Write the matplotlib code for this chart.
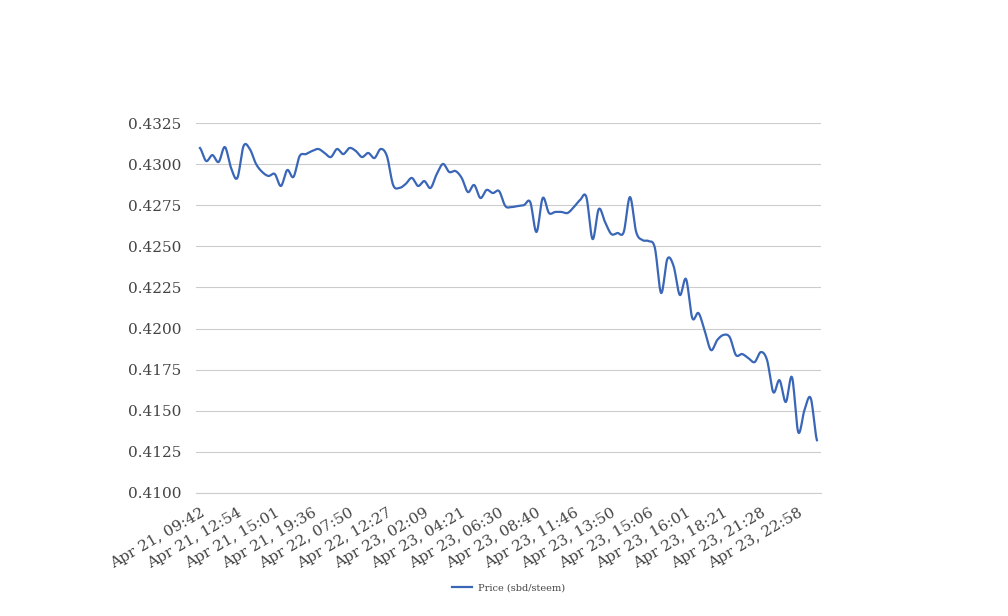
import numpy as np
import matplotlib
matplotlib.use("Agg")
import matplotlib.pyplot as plt

# precio sbd/steem, un valor por muestra
precios = [
    0.43098, 0.43019, 0.43055, 0.43013, 0.43104, 0.42976, 0.42916, 0.43110, 0.43092, 0.43001,
    0.42952, 0.42928, 0.42940, 0.42867, 0.42964, 0.42922, 0.43049, 0.43061, 0.43080, 0.43092,
    0.43068, 0.43043, 0.43092, 0.43061, 0.43098, 0.43080, 0.43043, 0.43068, 0.43037, 0.43092,
    0.43049, 0.42873, 0.42855, 0.42879, 0.42916, 0.42867, 0.42897, 0.42855, 0.42940, 0.43001,
    0.42952, 0.42958, 0.42916, 0.42830, 0.42873, 0.42794, 0.42843, 0.42824, 0.42836, 0.42745,
    0.42739, 0.42745, 0.42751, 0.42769, 0.42587, 0.42794, 0.42703, 0.42709, 0.42709, 0.42703,
    0.42739, 0.42782, 0.42800, 0.42544, 0.42727, 0.42648, 0.42575, 0.42581, 0.42587, 0.42800,
    0.42587, 0.42538, 0.42532, 0.42490, 0.42216, 0.42423, 0.42380, 0.42204, 0.42301, 0.42064,
    0.42094, 0.41985, 0.41869, 0.41930, 0.41961, 0.41948, 0.41839, 0.41845, 0.41820, 0.41796,
    0.41857, 0.41808, 0.41613, 0.41686, 0.41553, 0.41704, 0.41370, 0.41504, 0.41577, 0.41321,
]

# etiquetas del eje x (una cada 6 muestras)
etiquetas = [
    "Apr 21, 09:42", "Apr 21, 12:54", "Apr 21, 15:01", "Apr 21, 19:36",
    "Apr 22, 07:50", "Apr 22, 12:27", "Apr 23, 02:09", "Apr 23, 04:21",
    "Apr 23, 06:30", "Apr 23, 08:40", "Apr 23, 11:46", "Apr 23, 13:50",
    "Apr 23, 15:06", "Apr 23, 16:01", "Apr 23, 18:21", "Apr 23, 21:28",
    "Apr 23, 22:58",
]
paso_etiquetas = 6

y_ticks = [0.4100, 0.4125, 0.4150, 0.4175, 0.4200, 0.4225, 0.4250, 0.4275, 0.4300, 0.4325]


# curva suavizada (Catmull-Rom) solo para dibujar
def suavizar(y, n=12):
    y = np.asarray(y)
    p = np.concatenate([[y[0]], y, [y[-1]]])
    xs, ys = [], []
    t = np.linspace(0, 1, n, endpoint=False)
    for i in range(len(y) - 1):
        p0, p1, p2, p3 = p[i], p[i + 1], p[i + 2], p[i + 3]
        seg = 0.5 * ((2 * p1) + (-p0 + p2) * t + (2 * p0 - 5 * p1 + 4 * p2 - p3) * t ** 2
                     + (-p0 + 3 * p1 - 3 * p2 + p3) * t ** 3)
        xs.append(i + t)
        ys.append(seg)
    xs.append([len(y) - 1])
    ys.append([y[-1]])
    return np.concatenate(xs), np.concatenate(ys)


plt.rcParams['font.family'] = ['DejaVu Serif']

fig = plt.figure(figsize=(10.08, 6.16), dpi=100)
ax = fig.add_axes([0.1944, 0.1997, 0.6200, 0.6006])

xs, ys = suavizar(precios)
ax.plot(xs, ys, color='#3a66b8', linewidth=1.6, label='Price (sbd/steem)')

ax.set_ylim(0.4100, 0.4325)
ax.set_xlim(-0.64, len(precios) - 1 + 0.64)
ax.set_yticks(y_ticks)
ax.set_yticklabels([f"{v:.4f}" for v in y_ticks])
ax.set_xticks(range(0, len(precios), paso_etiquetas)[:len(etiquetas)])
ax.set_xticklabels(etiquetas, rotation=30, ha='right', rotation_mode='anchor')

ax.grid(axis='y', color='#cccccc', linewidth=0.8)
ax.set_axisbelow(True)
for s in ax.spines.values():
    s.set_visible(False)
ax.spines['bottom'].set_visible(True)
ax.spines['bottom'].set_color('#cccccc')
ax.spines['bottom'].set_linewidth(0.8)
ax.tick_params(axis='both', length=0, labelsize=11, labelcolor='#444444')
ax.tick_params(axis='y', pad=10.5)
ax.tick_params(axis='x', pad=9)

fig.legend(loc='center', bbox_to_anchor=(0.5045, 0.045), frameon=False,
           fontsize=7, handlelength=2.0, handletextpad=0.6, labelcolor='#444444')

plt.savefig('out.png', dpi=100)
